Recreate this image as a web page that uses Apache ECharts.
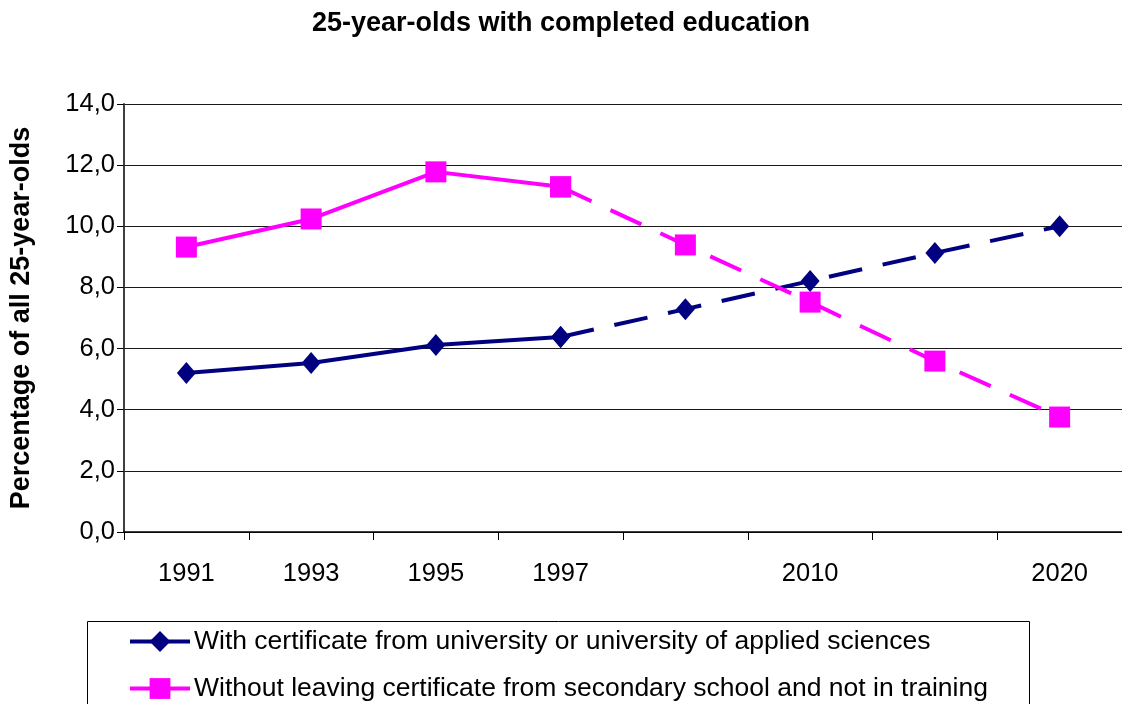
<!DOCTYPE html>
<html>
<head>
<meta charset="utf-8">
<script src="https://cdn.jsdelivr.net/npm/echarts@6/dist/echarts.min.js"></script>
<style>
html,body{margin:0;padding:0;background:#fff;}
#chart{width:1122px;height:704px;}
</style>
</head>
<body>
<div id="chart"></div>
<script>
const categories = ['1991', '1993', '1995', '1997', '', '2010', '', '2020'];
const withCertificate = [5.2, 5.53, 6.12, 6.38, 7.29, 8.21, 9.13, 10.0];
const withoutCertificate = [9.32, 10.24, 11.78, 11.29, 9.39, 7.52, 5.59, 3.76];
const yTicks = { min: 0, max: 14, interval: 2 };
const seriesNames = [
  'With certificate from university or university of applied sciences',
  'Without leaving certificate from secondary school and not in training'
];
const lastObserved = 3; // index of 1997: solid up to here, dashed after

function solidPart(arr) { return arr.map((v, i) => i <= lastObserved ? v : null); }
function dashedPart(arr) { return arr.map((v, i) => i >= lastObserved ? v : null); }

const FONT = '"Liberation Sans", Arial, sans-serif';
const BLUE = '#000080';
const PINK = '#FF00FF';

const chart = echarts.init(document.getElementById('chart'), null, { renderer: 'canvas' });

function legendFor(name, top) {
  return {
    data: [name],
    orient: 'horizontal',
    left: 128,
    top: top,
    padding: 0,
    itemWidth: 60,
    itemHeight: 26,
    lineStyle: { width: 4 },
    textStyle: { fontFamily: FONT, fontSize: 26.5, color: '#000', padding: [0, 0, 0, -1] }
  };
}

const option = {
  animation: false,
  backgroundColor: '#fff',
  title: {
    text: '25-year-olds with completed education',
    left: 'center',
    top: 5,
    textStyle: { fontFamily: FONT, fontSize: 27, fontWeight: 'bold', color: '#000' }
  },
  grid: { left: 123, top: 104, right: -1, bottom: 172, containLabel: false },
  legend: [legendFor(seriesNames[0], 628), legendFor(seriesNames[1], 675)],
  graphic: [{
    type: 'rect',
    left: 85, top: 619,
    shape: { width: 942, height: 120 },
    style: { fill: 'none', stroke: '#000', lineWidth: 1 },
    z: -1
  }],
  xAxis: {
    type: 'category',
    data: categories,
    boundaryGap: true,
    axisLine: { lineStyle: { color: '#000', width: 1.5 } },
    axisTick: { show: true, inside: false, length: 8, alignWithLabel: false, lineStyle: { color: '#000' } },
    axisLabel: { fontFamily: FONT, fontSize: 25.5, color: '#000', margin: 29, interval: 0 },
    splitLine: { show: false }
  },
  yAxis: {
    type: 'value',
    min: yTicks.min,
    max: yTicks.max,
    interval: yTicks.interval,
    name: 'Percentage of all 25-year-olds',
    nameLocation: 'middle',
    nameGap: 89,
    nameTextStyle: { fontFamily: FONT, fontSize: 27, fontWeight: 'bold', color: '#000' },
    axisLine: { show: true, lineStyle: { color: '#404040', width: 2 } },
    axisTick: { show: true, length: 7, lineStyle: { color: '#000' } },
    axisLabel: {
      fontFamily: FONT, fontSize: 25.5, color: '#000', margin: 9,
      padding: [3, 0, 0, 0],
      formatter: v => v.toFixed(1).replace('.', ',')
    },
    splitLine: { show: true, lineStyle: { color: '#1a1a1a', width: 1 } }
  },
  series: [
    {
      name: seriesNames[0],
      type: 'line',
      data: solidPart(withCertificate),
      connectNulls: false,
      symbol: 'diamond',
      symbolSize: [19, 22],
      itemStyle: { color: BLUE },
      lineStyle: { color: BLUE, width: 4 },
      z: 3
    },
    {
      name: seriesNames[1],
      type: 'line',
      data: solidPart(withoutCertificate),
      connectNulls: false,
      symbol: 'rect',
      symbolSize: 21,
      itemStyle: { color: PINK },
      lineStyle: { color: PINK, width: 4 },
      z: 3
    },
    {
      name: 'proj-a',
      type: 'line',
      data: dashedPart(withCertificate),
      symbol: 'diamond',
      symbolSize: [19, 22],
      itemStyle: { color: BLUE },
      lineStyle: { color: BLUE, width: 4, type: [34, 21] },
      z: 3
    },
    {
      name: 'proj-b',
      type: 'line',
      data: dashedPart(withoutCertificate),
      symbol: 'rect',
      symbolSize: 21,
      itemStyle: { color: PINK },
      lineStyle: { color: PINK, width: 4, type: [34, 21] },
      z: 3
    }
  ]
};
chart.setOption(option);
</script>
</body>
</html>
